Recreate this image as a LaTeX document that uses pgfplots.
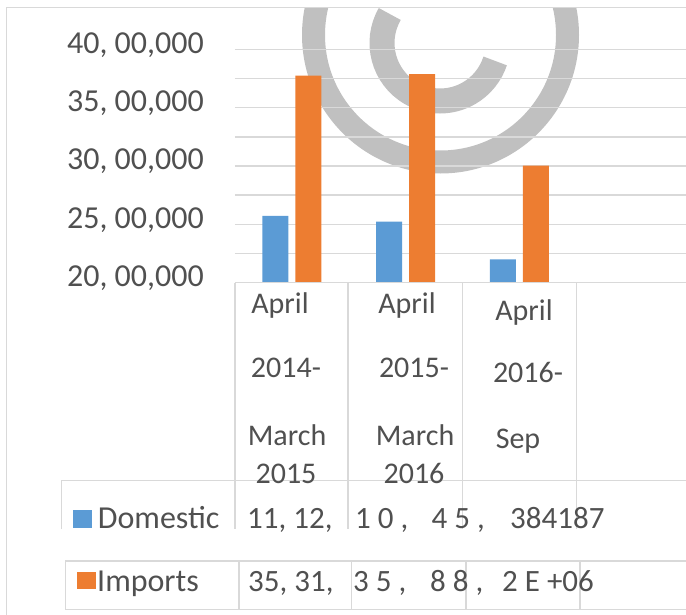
\documentclass[border=0pt]{standalone}
\usepackage{fontspec}
\setmainfont{Carlito}
\usepackage{pgfplots}
\pgfplotsset{compat=1.18}
\definecolor{blueC}{RGB}{91,155,213}
\definecolor{orangeC}{RGB}{237,125,49}
\definecolor{textC}{RGB}{80,80,80}
\definecolor{gridC}{RGB}{217,217,217}
\definecolor{wm}{RGB}{192,192,192}
\begin{document}
\begin{tikzpicture}
\useasboundingbox (0,0) rectangle (686pt,-615pt);
\clip (0,0) rectangle (686pt,-615pt);
% watermark
\begin{scope}
\clip (6.5pt,-7.5pt) rectangle (686pt,-615pt);
\draw[wm, line width=23pt] (440.5pt,-35pt) circle (127pt);
\draw[wm, line width=25pt] ([shift={(150:58pt)}]440pt,-43pt) arc[start angle=150, end angle=342, radius=58pt];
\end{scope}
% frame
\draw[gridC, line width=1.5pt] (6.5pt,-615pt) -- (6.5pt,-7.5pt) -- (690pt,-7.5pt);
\begin{axis}[
  at={(235pt,-282.7pt)}, anchor=south west,
  scale only axis, width=454.8pt, height=233.4pt,
  xmin=-0.5, xmax=3.5, ymin=2000000, ymax=4000000,
  axis line style={draw=none},
  xtick=\empty,
  ytick={2000000,2250000,2500000,2750000,3000000,3250000,3500000,3750000,4000000},
  yticklabels={{20, 00,000},{},{25, 00,000},{},{30, 00,000},{},{35, 00,000},{},{40, 00,000}},
  scaled y ticks=false,
  major tick length=0pt,
  yticklabel style={font=\fontsize{32}{38}\selectfont, text=textC, inner sep=0pt, anchor=east, xshift=-31pt, yshift=4.5pt},
  ymajorgrids, grid style={draw=gridC, line width=1.5pt},
  ybar=7pt, bar width=26pt,
]
\addplot[fill=blueC, draw=none] coordinates {(0,2572000) (1,2523000) (2,2200000)};
\addplot[fill=orangeC, draw=none] coordinates {(0,3774000) (1,3788000) (2,3003000)};
\end{axis}
% table lines
\begin{scope}[gridC, line width=1.5pt]
\draw (235pt,-282.7pt) -- (690pt,-282.7pt);
\draw (235pt,-282.7pt) -- (235pt,-529pt);
\draw (348pt,-282.7pt) -- (348pt,-529pt);
\draw (462.7pt,-282.7pt) -- (462.7pt,-529pt);
\draw (576.5pt,-282.7pt) -- (576.5pt,-529pt);
\draw (61.7pt,-529pt) -- (61.7pt,-480.7pt) -- (690pt,-480.7pt);
\draw (690pt,-561pt) -- (65.7pt,-561pt) -- (65.7pt,-609.3pt) -- (690pt,-609.3pt);
\draw (239pt,-561pt) -- (239pt,-609.3pt);
\draw (351.5pt,-561pt) -- (351.5pt,-609.3pt);
\draw (466pt,-561pt) -- (466pt,-609.3pt);
\draw (580pt,-561pt) -- (580pt,-609.3pt);
\end{scope}
% category labels
\begin{scope}[every node/.style={text=textC, inner sep=0pt, anchor=base, font=\fontsize{30}{36}\selectfont}]
\node at (280pt,-313pt) {April};
\node at (286pt,-377pt) {2014-};
\node at (287pt,-445pt) {March};
\node at (286pt,-483pt) {2015};
\node at (407pt,-313pt) {April};
\node at (414pt,-377pt) {2015-};
\node at (415pt,-445pt) {March};
\node at (414pt,-483pt) {2016};
\node at (524pt,-320pt) {April};
\node at (528pt,-382pt) {2016-};
\node at (518pt,-448pt) {Sep};
\end{scope}
% legend keys and data rows
\fill[blueC] (72.7pt,-510pt) rectangle (91.7pt,-527.7pt);
\fill[orangeC] (76.7pt,-571.7pt) rectangle (95.7pt,-589.3pt);
\begin{scope}[every node/.style={text=textC, inner sep=0pt, anchor=base west, font=\fontsize{31}{37}\selectfont}]
\node[font=\fontsize{32}{38}\selectfont] at (97.7pt,-528pt) {Domestic};
\node at (247pt,-528pt) {11, 12,};
\node at (355pt,-528pt) {1 0 ,};
\node at (431.5pt,-528pt) {4 5 ,};
\node at (510pt,-528pt) {384187};
\node[font=\fontsize{32}{38}\selectfont] at (97pt,-591.7pt) {Imports};
\node at (248pt,-591.7pt) {35, 31,};
\node at (353pt,-591.7pt) {3 5 ,};
\node at (430pt,-591.7pt) {8 8 ,};
\node at (502pt,-591.7pt) {2 E +06};
\end{scope}
\end{tikzpicture}
\end{document}
